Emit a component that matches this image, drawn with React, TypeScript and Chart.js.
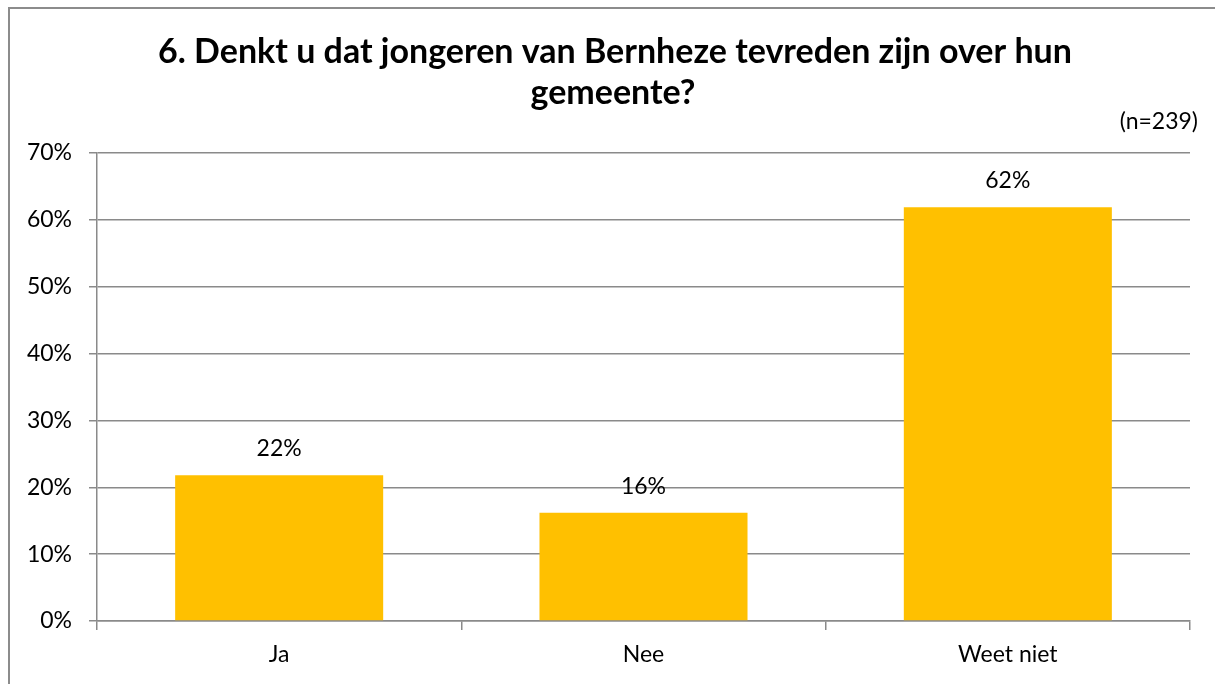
import React, { useEffect, useRef } from "react";
import { Chart, registerables } from "chart.js";

Chart.register(...registerables);

const categories = ["Ja", "Nee", "Weet niet"];
const values = [0.218, 0.162, 0.619];
const valueLabels = ["22%", "16%", "62%"];
const titleLines = ["6. Denkt u dat jongeren van Bernheze tevreden zijn over hun", "gemeente?"];
const note = "(n=239)";

const FONT = "Lato, 'Open Sans', sans-serif";
const GRID = "#8a8a8a";
const TXT = 23;

const decor = {
  id: "decor",
  beforeDraw(chart: any) {
    const ctx = chart.ctx;
    ctx.save();
    ctx.fillStyle = "#ffffff";
    ctx.fillRect(0, 0, chart.width, chart.height);
    ctx.strokeStyle = "#8c8c8c";
    ctx.lineWidth = 2;
    ctx.strokeRect(9, 8, 1220, 700);
    ctx.restore();
  },
  afterDraw(chart: any) {
    const ctx = chart.ctx;
    ctx.save();
    ctx.fillStyle = "#000000";
    ctx.font = `bold 34px ${FONT}`;
    ctx.textAlign = "center";
    ctx.textBaseline = "alphabetic";
    ctx.fillText(titleLines[0], 615, 63);
    ctx.fillText(titleLines[1], 613, 104);
    ctx.font = `${TXT}px ${FONT}`;
    ctx.textAlign = "right";
    ctx.fillText(note, 1198, 129);
    ctx.restore();
  },
  afterDatasetsDraw(chart: any) {
    const ctx = chart.ctx;
    const meta = chart.getDatasetMeta(0);
    ctx.save();
    ctx.fillStyle = "#000000";
    ctx.font = `${TXT}px ${FONT}`;
    ctx.textAlign = "center";
    ctx.textBaseline = "alphabetic";
    meta.data.forEach((bar: any, i: number) => {
      ctx.fillText(valueLabels[i], bar.x, bar.y - 19);
    });
    ctx.restore();
  },
};

export default function App() {
  const ref = useRef<HTMLCanvasElement | null>(null);
  useEffect(() => {
    if (!ref.current) return;
    const chart = new Chart(ref.current, {
      type: "bar",
      data: {
        labels: categories,
        datasets: [
          {
            data: values,
            backgroundColor: "#FFC000",
            borderWidth: 0,
            categoryPercentage: 1,
            barPercentage: 0.571,
          },
        ],
      },
      options: {
        animation: false,
        responsive: false,
        maintainAspectRatio: false,
        layout: { padding: { left: 0, top: 153, right: 25, bottom: 0 } },
        plugins: {
          legend: { display: false },
          title: { display: false },
          tooltip: { enabled: false },
        },
        scales: {
          x: {
            offset: true,
            grid: {
              offset: true,
              drawOnChartArea: false,
              drawTicks: true,
              tickLength: 9,
              color: GRID,
              lineWidth: 1.5,
            },
            border: { display: true, color: GRID, width: 1.5 },
            ticks: {
              color: "#000000",
              font: { family: FONT, size: TXT },
              padding: 11,
            },
            afterFit(scale: any) {
              scale.height = 63;
            },
          },
          y: {
            min: 0,
            max: 0.7,
            grid: {
              color: GRID,
              lineWidth: 1.5,
              tickLength: 8,
            },
            border: { display: true, color: GRID, width: 1.5 },
            ticks: {
              stepSize: 0.1,
              color: "#000000",
              font: { family: FONT, size: TXT },
              padding: 17,
              callback: (v: any) => `${Math.round(Number(v) * 100)}%`,
            },
            afterFit(scale: any) {
              scale.width = 97;
            },
          },
        },
      },
      plugins: [decor],
    });
    return () => chart.destroy();
  }, []);
  return (
    <div style={{ position: "absolute", left: 0, top: 0, width: 1215, height: 684 }}>
      <canvas ref={ref} width={1215} height={684} style={{ width: 1215, height: 684, display: "block" }} />
    </div>
  );
}
